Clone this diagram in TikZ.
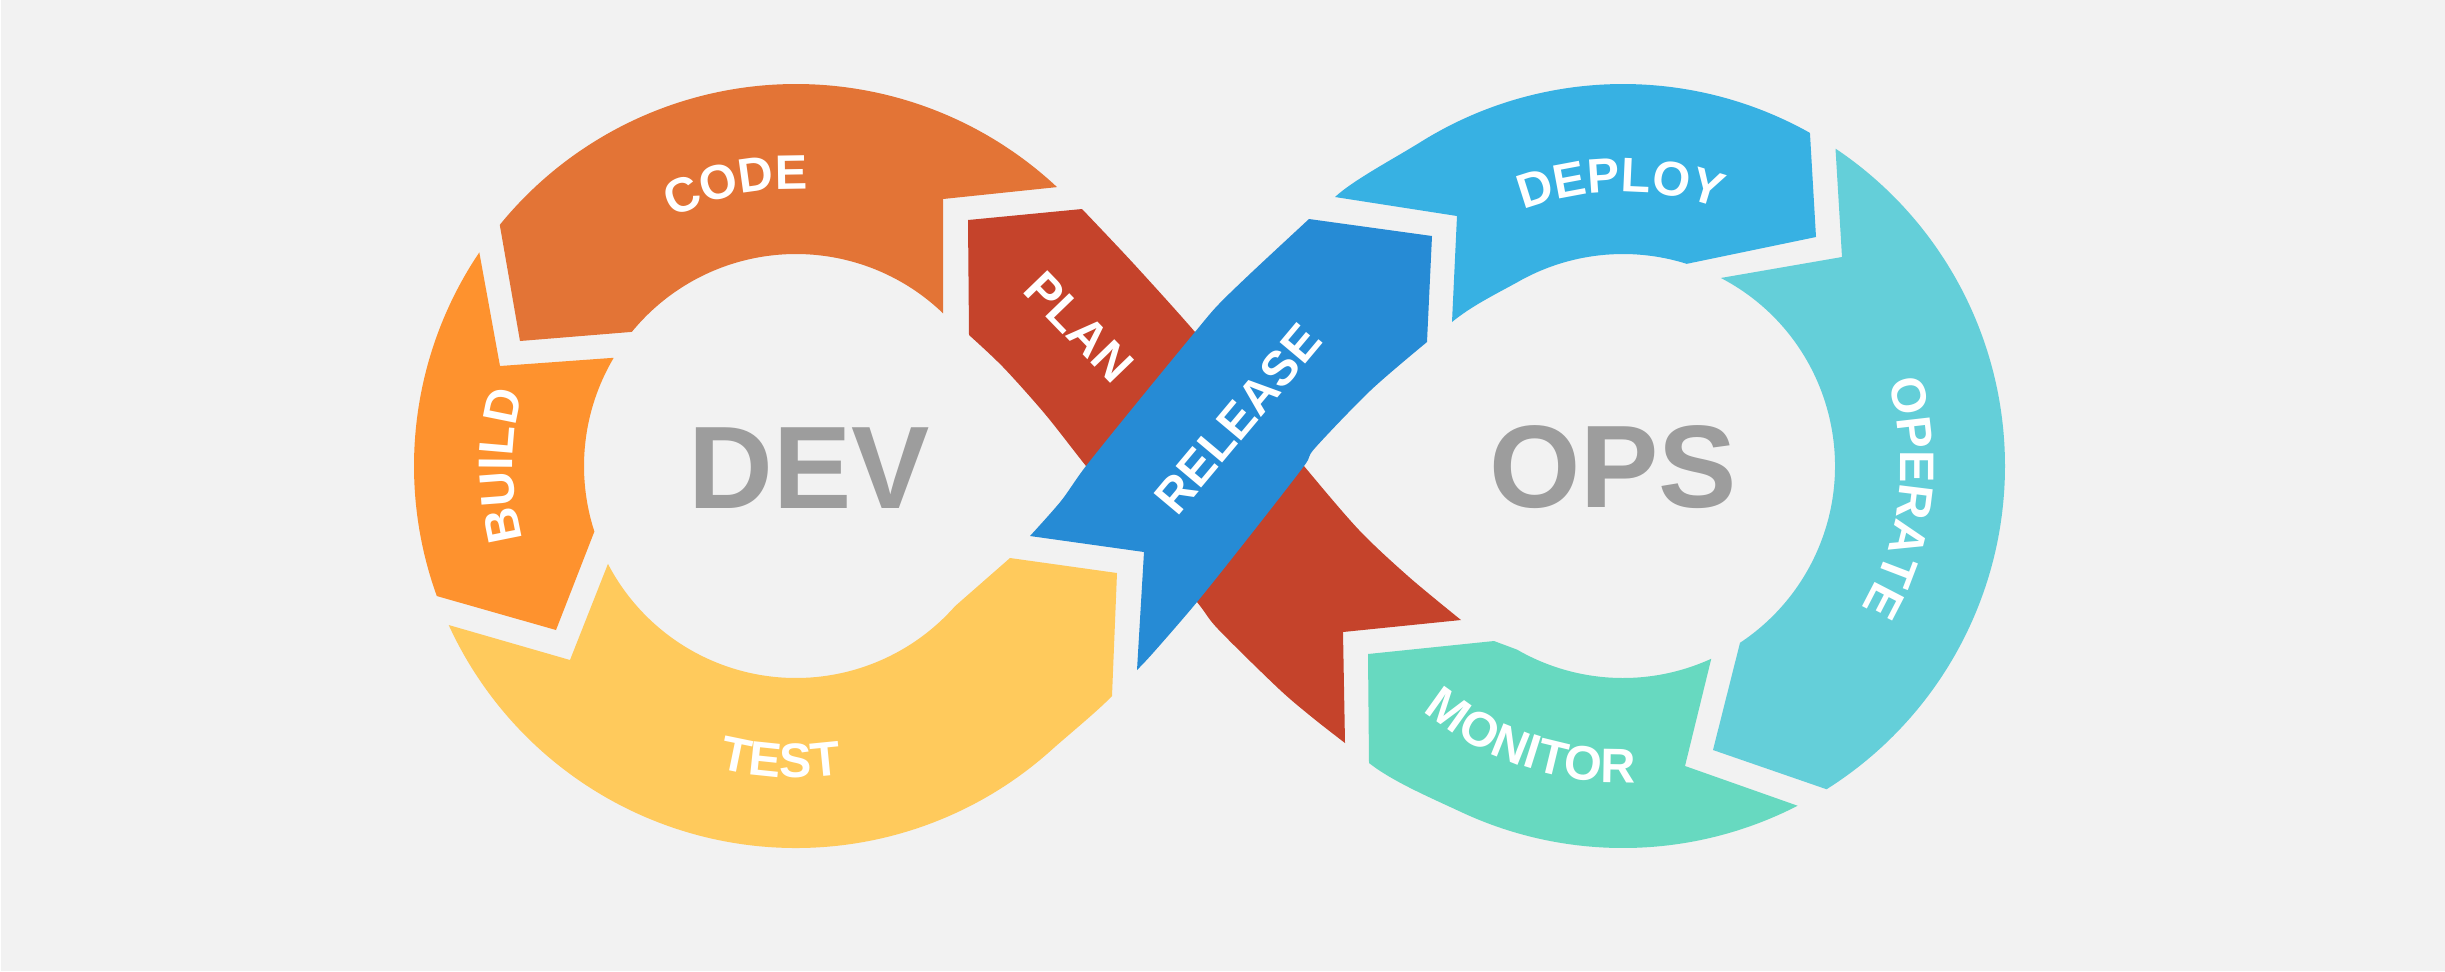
\documentclass[tikz,border=0pt]{standalone}
\usepackage{fontspec}
\setmainfont{Liberation Sans}
\newfontfamily\labfamily{Liberation Sans}
\usetikzlibrary{calc,decorations.text}

\definecolor{bgc}{HTML}{F2F2F2}
\definecolor{codec}{HTML}{E37436}
\definecolor{buildc}{HTML}{FE922E}
\definecolor{testc}{HTML}{FFCA5C}
\definecolor{planc}{HTML}{C5432B}
\definecolor{releasec}{HTML}{268BD5}
\definecolor{deployc}{HTML}{37B1E3}
\definecolor{operatec}{HTML}{64CFD9}
\definecolor{monitorc}{HTML}{67D9C0}
\definecolor{wordgray}{HTML}{9D9D9D}

\newcommand\stagefont{\labfamily\bfseries\fontsize{13.8}{14}\selectfont}
\newcommand\wordfont{\labfamily\bfseries\fontsize{33.4}{34}\selectfont}

\tikzset{
  stagelabel/.style={font=\stagefont, text=white, inner sep=0pt},
  bigword/.style={font=\wordfont, text=wordgray, inner sep=0pt},
  arclabel/.style={decorate, decoration={text along path, text align=center,
      text={|\stagefont\color{white}|#1}}},
}

\begin{document}
\begin{tikzpicture}[x=0.1mm, y=-0.1mm]
  % canvas
  \fill[bgc] (0,0) rectangle (2445,971);
  \fill[white] (0,0) rectangle (1.5,971);
  \useasboundingbox (0,0) rectangle (2445,971);

  % loop centres
  \coordinate (CL) at (796,466);
  \coordinate (CR) at (1623,466);

  % ---- left loop ----
  % CODE
  \fill[codec] ($(CL)+(-140.85:382)$) arc[start angle=-140.85, end angle=-46.9, radius=382]
    -- (943,199) -- ($(CL)+(-46.1:212)$) arc[start angle=-46.1, end angle=-140.75, radius=212]
    -- (520,341) -- cycle;
  % BUILD
  \fill[buildc] ($(CL)+(214:382)$) arc[start angle=214, end angle=160.1, radius=382]
    -- (556,630) -- ($(CL)+(162:212)$) arc[start angle=162, end angle=210.7, radius=212]
    -- (500,366) -- cycle;
  % TEST
  \fill[testc] ($(CL)+(155.4:382)$) -- (570,660)
    -- ($(CL)+(152.5:212)$) arc[start angle=152.5, end angle=41.4, radius=212]
    -- (1010,558) -- (1117,573) -- (1112,696)
    .. controls (1098.2,710.6) and (1066.5,736.5) .. ($(CL)+(48:382)$)
    arc[start angle=48, end angle=155.4, radius=382] -- cycle;

  % ---- crossing bands ----
  % PLAN
  \fill[planc] (968,220)
    -- plot[smooth] coordinates {(1082,209) (1133,263) (1195,332) (1250,399) (1304,466)
                                (1359,530) (1409,577) (1461,620)}
    -- (1343,632)
    -- plot[smooth] coordinates {(1345,743) (1313,718) (1279,689) (1218,629) (1197,602)
                                (1141,534) (1086,466) (1045,414) (1003,367) (969,335)}
    -- cycle;
  % RELEASE (lies over PLAN)
  \fill[releasec] (1144,552)
    -- plot[smooth] coordinates {(1030,536) (1061,501) (1086,466) (1140,399) (1195,332)
                                (1218,305) (1252,272) (1309,219)}
    -- (1432,236)
    -- plot[smooth] coordinates {(1427,342) (1371,390) (1315,448) (1304,466) (1252,533)
                                (1197,602) (1153,653) (1137,670)}
    -- cycle;

  % ---- right loop ----
  % DEPLOY
  \fill[deployc] (1335,197) -- (1457,216) -- (1452,322)
    .. controls (1471.5,306) and (1495,294.5) .. ($(CR)+(-120:212)$)
    arc[start angle=-120, end angle=-72.5, radius=212]
    -- (1816,237)
    -- ($(CR)+(-60.7:382)$) arc[start angle=-60.7, end angle=-122, radius=382]
    .. controls (1395.2,157.9) and (1353.3,180) .. (1335,197) -- cycle;
  % OPERATE
  \fill[operatec] ($(CR)+(-56.2:382)$) -- (1842,257)
    -- ($(CR)+(-62.5:212)$) arc[start angle=-62.5, end angle=56.5, radius=212]
    -- (1713,750)
    -- ($(CR)+(57.8:382)$) arc[start angle=57.8, end angle=-56.2, radius=382] -- cycle;
  % MONITOR
  \fill[monitorc] (1368,654) -- (1494,641)
    -- ($(CR)+(120:212)$) arc[start angle=120, end angle=65.4, radius=212]
    -- (1685,766)
    -- ($(CR)+(62.8:382)$) arc[start angle=62.8, end angle=115, radius=382]
    .. controls (1429.9,797.4) and (1392.7,781.6) .. (1369,763) -- cycle;

  % ---- stage labels following the loops ----
  \path[arclabel=CODE]    ($(CL)+(-142:277)$) arc[start angle=-142, end angle=-62, radius=277];
  \path[arclabel=BUILD]   ($(CL)+(140:283)$) arc[start angle=140, end angle=220, radius=283];
  \path[arclabel=TEST]    ($(CL)+(133:311.5)$) arc[start angle=133, end angle=53, radius=311.5];
  \path[arclabel=DEPLOY]  ($(CR)+(-130.5:274.5)$) arc[start angle=-130.5, end angle=-50.5, radius=274.5];
  \path[arclabel=OPERATE] ($(CR)+(-33.5:277.5)$) arc[start angle=-33.5, end angle=46.5, radius=277.5];
  \path[arclabel=MONITOR] ($(CR)+(148.5:316.5)$) arc[start angle=148.5, end angle=68.5, radius=316.5];

  % labels on the crossing bands
  \node[stagelabel, rotate=-46] (plan) at (1079,327) {PLAN};
  \node[stagelabel, rotate=50] (release) at (1238,419) {RELEASE};

  % loop titles
  \node[bigword] (dev) at (809,468) {DEV};
  \node[bigword] (ops) at (1613,467) {OPS};
\end{tikzpicture}
\end{document}
